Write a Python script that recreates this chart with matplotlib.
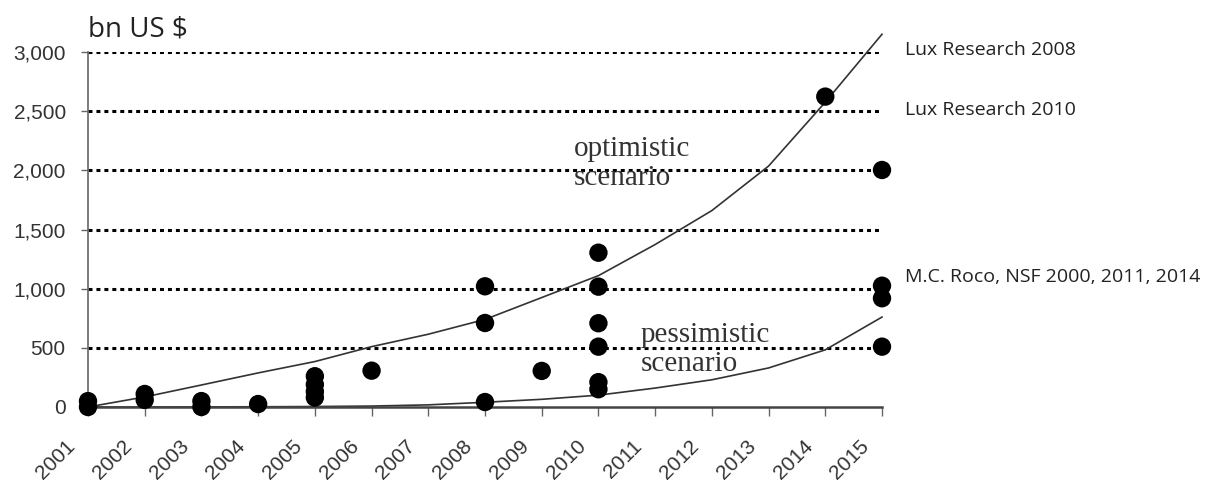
import matplotlib.pyplot as plt
import matplotlib.transforms as mtransforms

# data
years = list(range(2001, 2016))
optimistic = [0, 85, 186, 288, 384, 510, 615, 740, 925, 1110, 1373, 1660, 2036, 2576, 3150]
pessimistic = [0, 0, 1, 2, 4, 8, 18, 40, 65, 100, 160, 230, 330, 483, 760]

dot_years = [2001, 2001, 2002, 2002, 2003, 2003, 2004,
             2005, 2005, 2005, 2005, 2006,
             2008, 2008, 2008, 2009,
             2010, 2010, 2010, 2010, 2010, 2010,
             2014, 2015, 2015, 2015, 2015]
dot_values = [0, 50, 60, 110, 0, 50, 25,
              80, 130, 190, 260, 307,
              42, 710, 1020, 305,
              150, 210, 510, 708, 1017, 1304,
              2623, 510, 919, 1025, 2003]

grid_values = [500, 1000, 1500, 2000, 2500, 3000]
y_ticks = [0, 500, 1000, 1500, 2000, 2500, 3000]
y_labels = ['0', '500', '1,000', '1,500', '2,000', '2,500', '3,000']

sources = ['Lux Research 2008', 'Lux Research 2010', 'M.C. Roco, NSF 2000, 2011, 2014']
source_y = [3020, 2510, 1100]

fig = plt.figure(figsize=(12.22, 4.88), dpi=100)
ax = fig.add_axes([88 / 1222, 81 / 488, 794 / 1222, 355 / 488])

ax.hlines(grid_values, 2001, 2015, colors='black', linewidth=2.2,
          linestyles=(0, (1.3, 1.3)), zorder=1)

ax.plot(years, optimistic, color='#333333', linewidth=1.2, clip_on=False, zorder=2)
ax.plot(years, pessimistic, color='#333333', linewidth=1.2, clip_on=False, zorder=2)

ax.scatter(dot_years, dot_values, s=175, color='black', edgecolors='none',
           clip_on=False, zorder=3)

ax.set_xlim(2001, 2015)
ax.set_ylim(0, 3000)
ax.spines['top'].set_visible(False)
ax.spines['right'].set_visible(False)
ax.spines['left'].set_color('#666666')
ax.spines['left'].set_linewidth(1.2)
ax.spines['bottom'].set_color('#444444')
ax.spines['bottom'].set_linewidth(1.8)

ax.set_yticks(y_ticks)
ax.set_yticklabels(y_labels, family='Liberation Sans', fontsize=15, color='#333333')
ax.set_xticks(years)
ax.set_xticklabels([str(y) for y in years], family='Liberation Sans', fontsize=15,
                   color='#333333', rotation=45, ha='right', va='top')
ax.tick_params(axis='y', length=5, width=1, color='#666666', pad=11)
ax.tick_params(axis='x', length=6.5, width=1, color='#666666', pad=15)

shift = mtransforms.ScaledTranslation(-9 / 100, 0, fig.dpi_scale_trans)
for label in ax.get_xticklabels():
    label.set_transform(label.get_transform() + shift)

fig.text(88 / 1222, 1 - 37 / 488, 'bn US $', family='Open Sans', fontsize=20,
         color='#222222', ha='left', va='baseline')

for text, y in zip(sources, source_y):
    ax.text(2015.41, y, text, family='Open Sans', fontsize=14, color='#222222',
            ha='left', va='center', clip_on=False)

ax.text(2009.57, 2290, 'optimistic\nscenario', family='Liberation Serif', fontsize=21,
        color='#333333', ha='left', va='top', linespacing=1.15)
ax.text(2010.75, 715, 'pessimistic\nscenario', family='Liberation Serif', fontsize=21,
        color='#333333', ha='left', va='top', linespacing=1.15)

fig.savefig('out.png', dpi=100)
